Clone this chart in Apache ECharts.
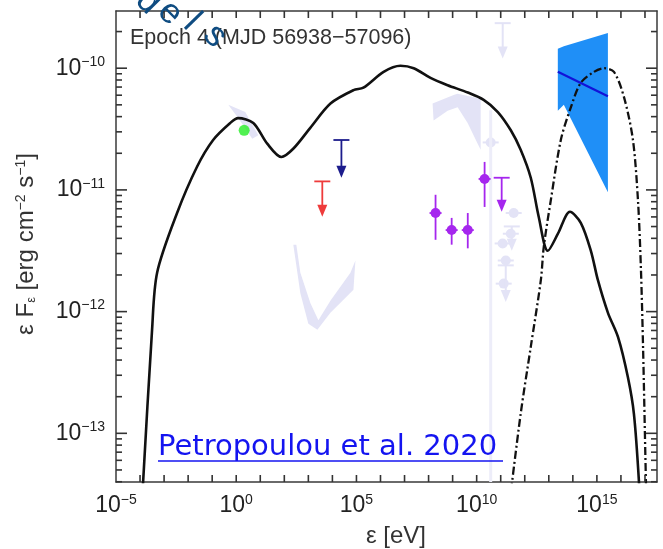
<!DOCTYPE html>
<html><head><meta charset="utf-8">
<script src="https://cdn.jsdelivr.net/npm/echarts@6/dist/echarts.min.js"></script>
<style>html,body{margin:0;padding:0;background:#fff}#c{width:663px;height:549px}</style>
</head><body><div id="c"></div>
<script>
// ---- values are log10 of energy (eV) and log10 of flux (erg cm^-2 s^-1) ----
const xTickExps = [-5, 0, 5, 10, 15];
const yTickExps = [-13, -12, -11, -10];

// black solid model curve
const modelLogE = [-3.93, -3.5, -3.29, -2.46, -1.63, -0.96, -0.25, 0.08, 0.71, 1.29, 1.88, 2.38, 3.08, 3.92, 4.88, 5.29, 6.13, 6.83, 7.38, 8.08, 8.79, 9.63, 10.29, 10.88, 11.42, 11.83, 12.25, 12.58, 12.96, 13.38, 13.88, 14.33, 14.75, 15.04, 15.46, 15.88, 16.29, 16.54, 16.75, 16.8];
const modelLogF = [-13.6, -12.15, -11.68, -11.19, -10.81, -10.59, -10.45, -10.41, -10.45, -10.62, -10.73, -10.66, -10.49, -10.29, -10.18, -10.16, -10.03, -9.98, -10.0, -10.08, -10.14, -10.20, -10.26, -10.36, -10.51, -10.67, -10.90, -11.22, -11.50, -11.36, -11.18, -11.27, -11.50, -11.74, -12.01, -12.21, -12.54, -12.84, -13.40, -13.7];

// dash-dot model curve
const pionLogE = [11.35, 11.83, 12.25, 12.67, 12.79, 13.08, 13.5, 13.92, 14.33, 14.88, 15.29, 15.71, 16.13, 16.5, 16.71, 16.83, 16.92, 17.04, 17.07];
const pionLogF = [-13.6, -12.84, -12.29, -11.74, -11.47, -11.09, -10.59, -10.32, -10.12, -10.03, -10.0, -10.03, -10.24, -10.59, -11.09, -11.64, -12.29, -13.40, -13.6];

// gamma-ray butterfly
const bowtieLogE = [13.375, 13.625, 15.458, 15.458, 13.625, 13.375];
const bowtieLogF = [-9.84, -9.82, -9.71, -11.02, -10.30, -10.35];
const bowtieLineLogE = [13.375, 15.458];
const bowtieLineLogF = [-10.03, -10.23];

// X-ray points with errors
const xrayLogE = [8.29, 8.96, 9.63, 10.33];
const xrayLogF = [-11.19, -11.33, -11.33, -10.91];
const xrayErrHi = [-11.04, -11.23, -11.19, -10.77];
const xrayErrLo = [-11.41, -11.45, -11.48, -11.14];
const xrayHalfWidth = [0.25, 0.25, 0.25, 0.25];

// optical point
const optLogE = [0.33];
const optLogF = [-10.51];

// upper limits
const ulLogE = [3.58, 4.375, 11.04];
const ulCapLogF = [-10.93, -10.59, -10.90];
const ulTipLogF = [-11.22, -10.90, -11.18];
const ulColors = ['#ee3b3b', '#1c1c8c', '#a526ee'];

// faded other-epoch data
const ghostWedgeE = [-0.33, 0.375, 0.917, 0.667, 0.083];
const ghostWedgeF = [-10.30, -10.36, -10.55, -10.58, -10.41];
const ghostVE = [2.375, 2.667, 3.0, 3.375, 3.917, 4.875, 4.958, 4.75, 3.917, 3.417, 3.083, 2.667, 2.5];
const ghostVF = [-11.45, -11.85, -12.10, -12.15, -12.01, -11.82, -11.58, -11.68, -11.91, -12.07, -11.93, -11.68, -11.45];
const ghostBowE = [8.167, 9.042, 9.208, 10.167, 10.167, 10.042, 9.625, 9.208, 8.792, 8.208];
const ghostBowF = [-10.29, -10.22, -10.21, -10.25, -10.67, -10.62, -10.45, -10.32, -10.35, -10.43];
const ghostLineE = [10.583, 10.583];
const ghostLineF = [-10.345, -13.4];
const ghostPtE = [10.583, 11.54, 11.42, 11.08, 11.21, 11.125];
const ghostPtF = [-10.61, -11.19, -11.36, -11.44, -11.58, -11.77];
const ghostUlE = [11.083, 11.46, 11.21];
const ghostUlCap = [-9.63, -11.30, -11.62];
const ghostUlTip = [-9.92, -11.50, -11.92];

const X_MIN = -5, X_MAX = 17.5, Y_MIN = -13.4, Y_MAX = -9.53;
const FONT = '"Liberation Sans", Arial, sans-serif';
const AX = '#3a3a3a';
const GHOST = '#e3e3f6';

function expText(v) { return v < 0 ? '\u2212' + Math.abs(v) : String(v); }
const richTick = {
  b: { fontSize: 23, fontFamily: FONT, color: '#222', lineHeight: 26 },
  s: { fontSize: 14, fontFamily: FONT, color: '#222', lineHeight: 14, verticalAlign: 'top' }
};
const xLabelFmt = v => (xTickExps.indexOf(Math.round(v)) >= 0 && Math.abs(v - Math.round(v)) < 1e-6) ? '{b|10}{s|' + expText(Math.round(v)) + '}' : '';
const yLabelFmt = v => '{b|10}{s|' + expText(Math.round(v)) + '}';

// tick positions (decades on x; decades + 2..9 subdivisions on y)
const xTicks = [];
for (let e = -4; e <= 17; e++) xTicks.push(e);
const yMinor = [];
for (let n = -14; n <= -10; n++) for (let k = 2; k <= 9; k++) {
  const v = n + Math.log10(k);
  if (v > Y_MIN && v < Y_MAX) yMinor.push(v);
}

function polySeries(es, fs, color, z) {
  return {
    type: 'custom', z: z, silent: true, clip: true,
    data: [[es[0], fs[0]]],
    renderItem: (p, api) => ({
      type: 'polygon',
      shape: { points: es.map((e, i) => api.coord([e, fs[i]])) },
      style: { fill: color }
    })
  };
}
function ulSeries(es, caps, tips, colors, z, w) {
  return {
    type: 'custom', z: z, silent: true, clip: true,
    data: es.map((e, i) => [e, caps[i], tips[i], i]),
    renderItem: (p, api) => {
      const i = api.value(3);
      const c = Array.isArray(colors) ? colors[i] : colors;
      const top = api.coord([api.value(0), api.value(1)]);
      const tip = api.coord([api.value(0), api.value(2)]);
      return {
        type: 'group', children: [
          { type: 'line', shape: { x1: top[0] - 8, y1: top[1], x2: top[0] + 8, y2: top[1] }, style: { stroke: c, lineWidth: w } },
          { type: 'line', shape: { x1: top[0], y1: top[1], x2: tip[0], y2: tip[1] - 8 }, style: { stroke: c, lineWidth: w } },
          { type: 'polygon', shape: { points: [[tip[0] - 5, tip[1] - 12], [tip[0] + 5, tip[1] - 12], [tip[0], tip[1]]] }, style: { fill: c } }
        ]
      };
    }
  };
}

const chart = echarts.init(document.getElementById('c'), null, { renderer: 'canvas' });
const axisLineStyle = { color: AX, width: 1.5 };
const texts = [
  { type: 'text', x: 130, y: 38, z: 10, style: { text: 'Epoch 4 (MJD 56938\u221257096)', fontSize: 21.5, fontFamily: FONT, fill: '#333', verticalAlign: 'middle' } },
  { type: 'text', x: 148, y: 2, z: 20, rotation: -0.8, style: { text: 'd', fontSize: 35, fontFamily: FONT, fill: '#0f4c81', align: 'center', verticalAlign: 'middle' } },
  { type: 'text', x: 170, y: 13, z: 20, rotation: -0.8, style: { text: 'e', fontSize: 35, fontFamily: FONT, fill: '#0f4c81', align: 'center', verticalAlign: 'middle' } },
  { type: 'text', x: 192, y: 22, z: 20, rotation: -0.8, style: { text: 'l', fontSize: 35, fontFamily: FONT, fill: '#0f4c81', align: 'center', verticalAlign: 'middle' } },
  { type: 'text', x: 215, y: 36, z: 20, rotation: -0.8, style: { text: 's', fontSize: 35, fontFamily: FONT, fill: '#0f4c81', align: 'center', verticalAlign: 'middle' } },
  { type: 'text', x: 158, y: 447, z: 10, style: { text: 'Petropoulou et al. 2020', fontSize: 29, fontFamily: '"DejaVu Sans", sans-serif', fill: '#1414f0', verticalAlign: 'middle' } },
  { type: 'line', z: 10, shape: { x1: 158, y1: 461, x2: 503, y2: 461 }, style: { stroke: '#1414f0', lineWidth: 1.6 } },
  { type: 'text', x: 396, y: 536, z: 10, style: { text: '\u03b5 [eV]', fontSize: 24, fontFamily: FONT, fill: '#333', align: 'center', verticalAlign: 'middle' } },
  { type: 'text', x: 26, y: 244, z: 10, rotation: Math.PI / 2,
    style: { text: '\u03b5 F{sub|\u03b5} [erg cm{sup|\u22122} s{sup|\u22121}]', fontSize: 24, fontFamily: FONT, fill: '#333', align: 'center', verticalAlign: 'middle',
      rich: { sub: { fontSize: 13, fontFamily: FONT, fill: '#333', verticalAlign: 'bottom', lineHeight: 13 },
              sup: { fontSize: 14, fontFamily: FONT, fill: '#333', verticalAlign: 'top', lineHeight: 14 } } } }
];
const option = {
  animation: false,
  backgroundColor: '#fff',
  grid: { left: 116, right: 6, top: 11, bottom: 67, containLabel: false },
  xAxis: [
    { type: 'value', min: X_MIN, max: X_MAX, interval: 1, position: 'bottom',
      axisLine: { show: true, onZero: false, lineStyle: axisLineStyle },
      axisTick: { show: false },
      axisLabel: { show: true, margin: 11, formatter: xLabelFmt, rich: richTick, showMaxLabel: false },
      splitLine: { show: false } },
    { type: 'value', min: X_MIN, max: X_MAX, interval: 1, position: 'top',
      axisLine: { show: true, onZero: false, lineStyle: axisLineStyle },
      axisTick: { show: false }, axisLabel: { show: false }, splitLine: { show: false } }
  ],
  yAxis: [
    { type: 'value', min: Y_MIN, max: Y_MAX, position: 'left',
      axisLine: { show: true, onZero: false, lineStyle: axisLineStyle },
      axisTick: { show: false },
      axisLabel: { show: true, customValues: yTickExps, margin: 11, formatter: yLabelFmt, rich: richTick },
      splitLine: { show: false } },
    { type: 'value', min: Y_MIN, max: Y_MAX, position: 'right',
      axisLine: { show: true, onZero: false, lineStyle: axisLineStyle },
      axisTick: { show: false }, axisLabel: { show: false }, splitLine: { show: false } }
  ],
  series: [
    polySeries(ghostWedgeE, ghostWedgeF, GHOST, 1),
    polySeries(ghostVE, ghostVF, GHOST, 1),
    polySeries(ghostBowE, ghostBowF, GHOST, 1),
    { type: 'line', z: 1, silent: true, showSymbol: false, data: ghostLineE.map((e, i) => [e, ghostLineF[i]]),
      lineStyle: { color: '#ededf9', width: 3 } },
    { type: 'custom', z: 1, silent: true, clip: true,
      data: ghostPtE.map((e, i) => [e, ghostPtF[i]]),
      renderItem: (p, api) => {
        const c = api.coord([api.value(0), api.value(1)]);
        return { type: 'group', children: [
          { type: 'line', shape: { x1: c[0] - 8, y1: c[1], x2: c[0] + 8, y2: c[1] }, style: { stroke: GHOST, lineWidth: 2 } },
          { type: 'circle', shape: { cx: c[0], cy: c[1], r: 5 }, style: { fill: GHOST } }
        ] };
      } },
    ulSeries(ghostUlE, ghostUlCap, ghostUlTip, GHOST, 1, 2),
    polySeries(bowtieLogE, bowtieLogF, '#1f8ff7', 2),
    { type: 'line', z: 3, silent: true, showSymbol: false,
      data: bowtieLineLogE.map((e, i) => [e, bowtieLineLogF[i]]),
      lineStyle: { color: '#1212d8', width: 2.2 } },
    { type: 'line', z: 4, silent: true, showSymbol: false, smooth: 0.3, clip: true,
      data: modelLogE.map((e, i) => [e, modelLogF[i]]),
      lineStyle: { color: '#111', width: 2.6 } },
    { type: 'line', z: 4, silent: true, showSymbol: false, smooth: 0.3, clip: true,
      data: pionLogE.map((e, i) => [e, pionLogF[i]]),
      lineStyle: { color: '#111', width: 2.3, type: [8, 3, 2, 3] } },
    ulSeries(ulLogE, ulCapLogF, ulTipLogF, ulColors, 5, 1.8),
    { type: 'custom', z: 5, silent: true, clip: true,
      data: xrayLogE.map((e, i) => [e, xrayLogF[i], xrayErrHi[i], xrayErrLo[i], xrayHalfWidth[i]]),
      renderItem: (p, api) => {
        const c = api.coord([api.value(0), api.value(1)]);
        const hi = api.coord([api.value(0), api.value(2)]);
        const lo = api.coord([api.value(0), api.value(3)]);
        const l = api.coord([api.value(0) - api.value(4), api.value(1)]);
        const r = api.coord([api.value(0) + api.value(4), api.value(1)]);
        const col = '#a526ee';
        return { type: 'group', children: [
          { type: 'line', shape: { x1: hi[0], y1: hi[1], x2: lo[0], y2: lo[1] }, style: { stroke: col, lineWidth: 1.8 } },
          { type: 'line', shape: { x1: l[0], y1: l[1], x2: r[0], y2: r[1] }, style: { stroke: col, lineWidth: 1.8 } },
          { type: 'circle', shape: { cx: c[0], cy: c[1], r: 5 }, style: { fill: col } }
        ] };
      } },
    { type: 'scatter', z: 5, silent: true, symbol: 'circle', symbolSize: 11,
      data: optLogE.map((e, i) => [e, optLogF[i]]),
      itemStyle: { color: '#26ee26' } }
  ],
  graphic: texts
};
chart.setOption(option);

// frame tick marks, positioned through the chart's own axis scales
const toPx = (x, y) => chart.convertToPixel({ xAxisIndex: 0, yAxisIndex: 0 }, [x, y]);
const TICK_COLOR = '#333333';
const ticks = [];
xTicks.forEach(v => {
  const b = toPx(v, Y_MIN), t = toPx(v, Y_MAX);
  ticks.push({ type: 'line', z: 50, shape: { x1: b[0], y1: b[1], x2: b[0], y2: b[1] - 7 }, style: { stroke: TICK_COLOR, lineWidth: 1.6 } });
  ticks.push({ type: 'line', z: 50, shape: { x1: t[0], y1: t[1], x2: t[0], y2: t[1] + 7 }, style: { stroke: TICK_COLOR, lineWidth: 1.6 } });
});
yTickExps.concat(yMinor).forEach(v => {
  const len = yTickExps.indexOf(v) >= 0 ? 11 : 6;
  const l = toPx(X_MIN, v), r = toPx(X_MAX, v);
  ticks.push({ type: 'line', z: 50, shape: { x1: l[0], y1: l[1], x2: l[0] + len, y2: l[1] }, style: { stroke: TICK_COLOR, lineWidth: 1.6 } });
  ticks.push({ type: 'line', z: 50, shape: { x1: r[0], y1: r[1], x2: r[0] - len, y2: r[1] }, style: { stroke: TICK_COLOR, lineWidth: 1.6 } });
});
chart.setOption({ graphic: texts.concat(ticks) });
</script></body></html>
